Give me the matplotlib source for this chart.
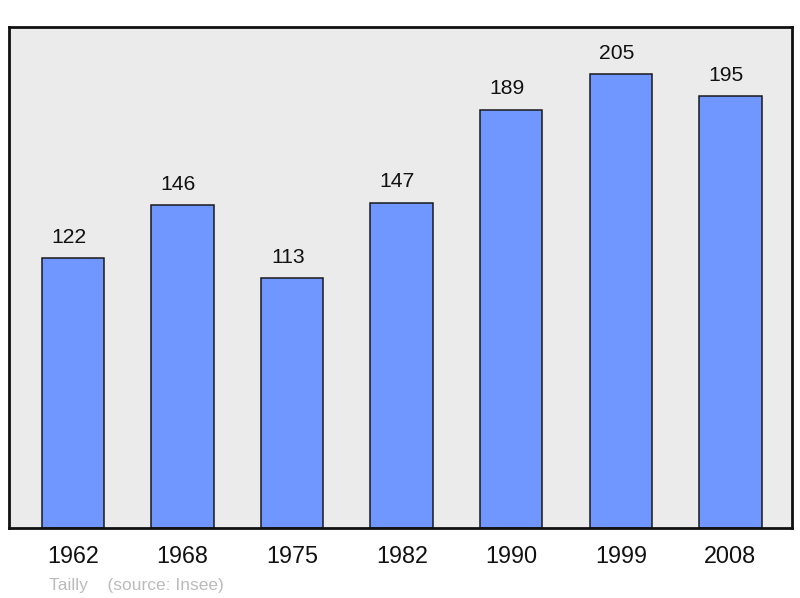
import numpy as np
import matplotlib.pyplot as plt

# Population data (Insee)
years = ['1962', '1968', '1975', '1982', '1990', '1999', '2008']
population = [122, 146, 113, 147, 189, 205, 195]

plt.rcParams['font.family'] = ['Liberation Sans', 'DejaVu Sans']

fig = plt.figure(figsize=(8, 5.98), dpi=100)
ax = fig.add_axes([0.01125, 0.117, 0.979, 0.838])
ax.set_facecolor('#ebebeb')

x = np.arange(len(years))
ax.bar(x, population, width=0.57, color='#7096ff', edgecolor='#1a1a1a', linewidth=1.1, zorder=2)

for xi, val in zip(x, population):
    ax.annotate(str(val), (xi, val), xytext=(-3, 11), textcoords='offset points',
                ha='center', va='baseline', fontsize=15.2, color='#111111')

ax.set_xlim(-0.585, 6.565)
ax.set_ylim(0, 226.4)
ax.set_xticks(x)
ax.set_xticklabels(years, fontsize=16.8, color='#111111')
ax.tick_params(axis='x', length=0, pad=12)
ax.set_yticks([])

for sp in ax.spines.values():
    sp.set_linewidth(2)
    sp.set_color('#111111')

fig.text(0.061, 0.0134, 'Tailly    (source: Insee)', fontsize=12.5, color='#bbbbbb',
         ha='left', va='baseline')

fig.savefig('out.png', dpi=100)
